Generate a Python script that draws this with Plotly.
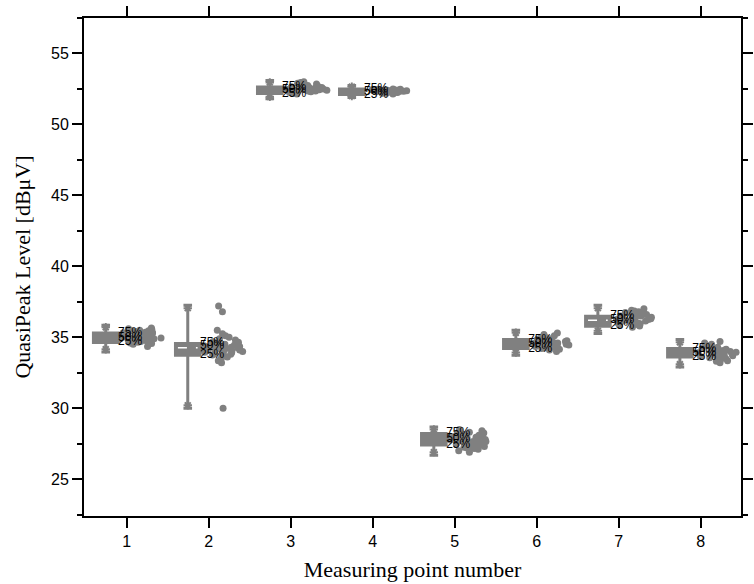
import plotly.graph_objects as go

# Measuring points along the x axis
points = [1, 2, 3, 4, 5, 6, 7, 8]

# Box statistics per measuring point [dBuV]
q1 = [34.63, 33.73, 52.17, 52.10, 27.40, 34.20, 35.77, 33.61]
median = [34.95, 34.40, 52.40, 52.30, 27.80, 34.50, 36.20, 33.90]
q3 = [35.30, 34.56, 52.63, 52.50, 28.22, 34.84, 36.48, 34.20]
lowerfence = [33.96, 30.00, 51.80, 51.90, 26.69, 33.73, 35.26, 32.90]
upperfence = [35.85, 37.25, 53.10, 52.75, 28.68, 35.49, 37.25, 34.84]
p01 = [34.15, 30.20, 51.95, 52.00, 26.90, 33.92, 35.45, 33.10]
p99 = [35.70, 37.05, 52.95, 52.65, 28.50, 35.32, 37.05, 34.65]
# Mean lines shown inside the taller boxes
mean_marks = [None, 34.25, None, None, None, None, 36.20, None]

# Individual QuasiPeak readings per measuring point [dBuV]
readings = [
    [34.35, 34.5, 34.6, 34.65, 34.7, 34.75, 34.8, 34.85, 34.9, 34.9, 34.95, 35.0,
     35.0, 35.05, 35.1, 35.1, 35.15, 35.2, 35.2, 35.25, 35.3, 35.3, 35.35, 35.4,
     35.45, 35.5, 35.55, 35.6, 35.65, 34.55, 34.7, 34.85, 35.0, 35.15, 35.3, 35.45,
     34.95, 35.05, 35.2, 35.35, 34.8],
    [30.0, 33.2, 33.35, 33.5, 33.6, 33.7, 33.75, 33.8, 33.9, 33.95, 34.0, 34.05,
     34.1, 34.15, 34.2, 34.25, 34.3, 34.35, 34.4, 34.45, 34.5, 34.55, 34.6, 34.7,
     34.8, 34.9, 35.0, 35.1, 35.25, 35.5, 36.8, 37.2, 33.85, 34.2, 34.4, 34.65,
     34.05, 34.3, 34.5, 33.9, 34.15],
    [52.15, 52.2, 52.25, 52.3, 52.3, 52.35, 52.35, 52.4, 52.4, 52.45, 52.45, 52.5,
     52.5, 52.55, 52.55, 52.6, 52.6, 52.65, 52.7, 52.75, 52.8, 52.85, 52.9, 52.95,
     53.0, 52.4, 52.5, 52.6, 52.3, 52.45, 52.35, 52.55, 52.42],
    [52.15, 52.2, 52.22, 52.25, 52.27, 52.3, 52.3, 52.32, 52.35, 52.35, 52.37, 52.4,
     52.4, 52.42, 52.45, 52.45, 52.48, 52.5, 52.25, 52.3, 52.35, 52.4, 52.28, 52.33,
     52.38, 52.43, 52.2, 52.47, 52.32, 52.36, 52.34, 52.39],
    [26.9, 27.0, 27.1, 27.15, 27.2, 27.3, 27.35, 27.4, 27.45, 27.5, 27.55, 27.6,
     27.65, 27.7, 27.75, 27.8, 27.85, 27.9, 27.95, 28.0, 28.05, 28.1, 28.15, 28.2,
     28.25, 28.3, 28.4, 28.5, 27.25, 27.55, 27.75, 27.95, 28.1, 27.65, 27.85,
     27.45, 27.7, 27.9, 28.0],
    [34.0, 34.1, 34.15, 34.2, 34.25, 34.3, 34.35, 34.4, 34.45, 34.5, 34.5, 34.55,
     34.6, 34.65, 34.7, 34.75, 34.8, 34.85, 34.9, 34.95, 35.0, 35.1, 35.2, 35.3,
     34.3, 34.45, 34.6, 34.75, 34.4, 34.55, 34.65, 34.9, 34.5, 34.6],
    [35.7, 35.8, 35.85, 35.9, 35.95, 36.0, 36.05, 36.1, 36.15, 36.2, 36.25, 36.3,
     36.35, 36.4, 36.45, 36.5, 36.55, 36.6, 36.65, 36.7, 36.75, 36.8, 36.85, 36.9,
     37.0, 36.0, 36.2, 36.35, 36.5, 36.1, 36.6, 36.3, 36.4, 36.25],
    [33.2, 33.3, 33.35, 33.4, 33.5, 33.55, 33.6, 33.65, 33.7, 33.75, 33.8, 33.85,
     33.9, 33.95, 34.0, 34.05, 34.1, 34.15, 34.2, 34.25, 34.3, 34.4, 34.5, 34.6,
     34.7, 33.7, 33.85, 34.0, 34.1, 33.95, 33.8, 34.15, 33.9, 34.05],
]

GRAY = "#808080"
BOX_SHIFT = -0.255   # box drawn left of the tick
BOX_W = 0.30
PTS_SHIFT = 0.18     # raw readings drawn right of the tick
PTS_W = 0.54

box_x = [p + BOX_SHIFT for p in points]

fig = go.Figure()

# Boxes from the summary statistics
fig.add_trace(go.Box(
    x=box_x, q1=q1, median=median, q3=q3,
    lowerfence=lowerfence, upperfence=upperfence,
    width=BOX_W, whiskerwidth=0.35,
    fillcolor=GRAY, line=dict(color=GRAY, width=3),
    boxpoints=False, showlegend=False, hoverinfo="skip",
))

# Dashed mean lines inside boxes
mx, my = [], []
for bx, m in zip(box_x, mean_marks):
    if m is None:
        continue
    mx += [bx - BOX_W / 2 + 0.03, bx + BOX_W / 2 - 0.03, None]
    my += [m, m, None]
fig.add_trace(go.Scatter(
    x=mx, y=my, mode="lines",
    line=dict(color="white", width=1.5, dash="dash"),
    showlegend=False, hoverinfo="skip",
))

# 1% / 99% markers near the whisker ends
fig.add_trace(go.Scatter(
    x=box_x + box_x, y=p01 + p99, mode="markers",
    marker=dict(symbol="asterisk-open", size=7, color=GRAY,
                line=dict(color=GRAY, width=2)),
    showlegend=False, hoverinfo="skip",
))

# Raw readings, jittered beside each box (box itself hidden)
rx, ry = [], []
for p, vals in zip(points, readings):
    rx += [p + PTS_SHIFT] * len(vals)
    ry += vals
fig.add_trace(go.Box(
    x=rx, y=ry, width=PTS_W,
    boxpoints="all", jitter=1, pointpos=0,
    fillcolor="rgba(0,0,0,0)", line=dict(color="rgba(0,0,0,0)", width=0),
    marker=dict(color=GRAY, size=7, opacity=1),
    showlegend=False, hoverinfo="skip",
))

# Percentile labels at the right edge of each box
lab_x, lab_y, lab_t = [], [], []
for bx, a, b, c in zip(box_x, q3, median, q1):
    for val, txt in ((a, "75%"), (b, "50%"), (c, "25%")):
        lab_x.append(bx + BOX_W / 2)
        lab_y.append(val)
        lab_t.append(txt)
fig.add_trace(go.Scatter(
    x=lab_x, y=lab_y, text=lab_t, mode="text", textposition="middle right",
    textfont=dict(family="Liberation Sans, Arial, sans-serif", size=12, color="#000000"),
    showlegend=False, hoverinfo="skip",
))

fig.update_layout(
    width=754, height=584,
    margin=dict(l=84, r=1, t=18, b=68),
    paper_bgcolor="white", plot_bgcolor="white",
    showlegend=False, hovermode=False,
    font=dict(family="Liberation Sans, Arial, sans-serif", size=16, color="#000000"),
)
fig.update_xaxes(
    range=[0.48, 8.49], tickmode="array", tickvals=points,
    ticktext=[str(p) for p in points],
    showgrid=False, zeroline=False,
    showline=True, linecolor="black", linewidth=2, mirror="ticks",
    ticks="outside", ticklen=10, tickwidth=2, tickcolor="black",
    title=dict(text="Measuring point number", standoff=12,
               font=dict(family="Liberation Serif, Times New Roman, serif", size=22,
                         color="#000000")),
)
fig.update_yaxes(
    range=[22.4, 57.5], tick0=25, dtick=5,
    showgrid=False, zeroline=False,
    showline=True, linecolor="black", linewidth=2, mirror="ticks",
    ticks="outside", ticklen=10, tickwidth=2, tickcolor="black",
    minor=dict(dtick=2.5, tick0=22.5, ticks="outside", ticklen=5, tickwidth=2,
               tickcolor="black", showgrid=False),
    title=dict(text="QuasiPeak Level [dBμV]", standoff=14,
               font=dict(family="Liberation Serif, Times New Roman, serif", size=22,
                         color="#000000")),
)

fig.write_html("out.html")
